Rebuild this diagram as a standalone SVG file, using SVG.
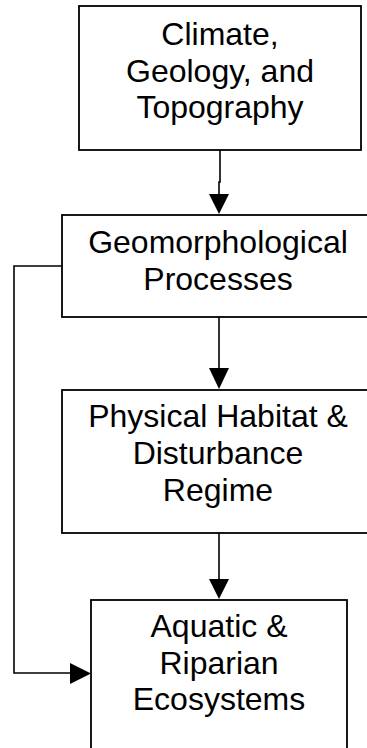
<svg xmlns="http://www.w3.org/2000/svg" width="367" height="748" viewBox="0 0 367 748">
<style>
.box{fill:#fff;stroke:#000;stroke-width:1.8}
.t{font-family:"Liberation Sans",Arial,sans-serif;font-size:32px;fill:#000;text-anchor:middle}
.c{fill:none;stroke:#000;stroke-width:1.6}
.h{fill:#000;stroke:none}
</style>
<rect width="367" height="748" fill="#fff"/>
<g id="n1">
<rect class="box" x="79" y="6" width="282" height="144"/>
<text class="t" x="220" y="45">Climate,</text>
<text class="t" x="220" y="81.5">Geology, and</text>
<text class="t" x="220" y="118">Topography</text>
</g>
<g id="n2">
<rect class="box" x="62" y="215" width="320" height="102"/>
<text class="t" x="218" y="253">Geomorphological</text>
<text class="t" x="218" y="290">Processes</text>
</g>
<g id="n3">
<rect class="box" x="62" y="390" width="320" height="143"/>
<text class="t" x="218" y="427">Physical Habitat &amp;</text>
<text class="t" x="218" y="464">Disturbance</text>
<text class="t" x="218" y="501">Regime</text>
</g>
<g id="n4">
<rect class="box" x="91" y="600" width="256" height="170"/>
<text class="t" x="219" y="637">Aquatic &amp;</text>
<text class="t" x="219" y="673.5">Riparian</text>
<text class="t" x="219" y="710">Ecosystems</text>
</g>
<g id="connectors">
<path class="c" d="M220 150 V182 H219 V196"/>
<polygon class="h" points="209,194 229,194 219,214"/>
<path class="c" d="M219 317 V370"/>
<polygon class="h" points="209,368 229,368 219,389"/>
<path class="c" d="M219 533 V581"/>
<polygon class="h" points="209,579 229,579 219,599"/>
<path class="c" d="M62 266 H14 V673 H72"/>
<polygon class="h" points="70,663 70,684 91,673.5"/>
</g>
</svg>
